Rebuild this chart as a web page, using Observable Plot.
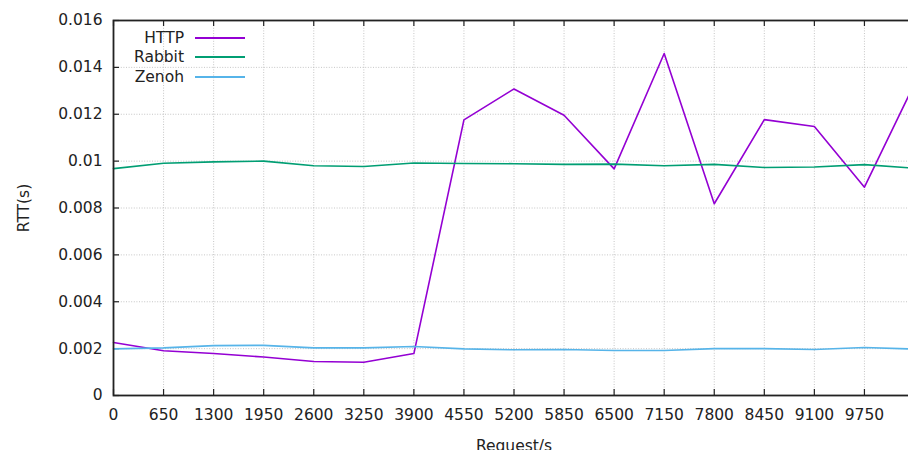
<!DOCTYPE html>
<html>
<head>
<meta charset="utf-8">
<script src="https://cdn.jsdelivr.net/npm/d3@7"></script>
<script src="https://cdn.jsdelivr.net/npm/@observablehq/plot@0.6"></script>
<style>
  html, body { margin: 0; padding: 0; background: #fff; overflow: hidden; width: 908px; height: 450px; }
  #wrap { position: relative; width: 908px; height: 450px; overflow: hidden; }
  #legend { position: absolute; left: 0; top: 0; width: 908px; height: 100px; pointer-events: none;
            font-family: "DejaVu Sans", sans-serif; font-size: 15.5px; color: #222; }
  .lg-label { position: absolute; right: 724px; white-space: nowrap; line-height: 20px; height: 20px; }
  .lg-line { position: absolute; left: 195px; width: 50px; height: 1.5px; }
</style>
</head>
<body>
<div id="wrap"><div id="legend"></div></div>
<script>
// ---- data ----
const requests = [0, 650, 1300, 1950, 2600, 3250, 3900, 4550, 5200, 5850, 6500, 7150, 7800, 8450, 9100, 9750, 10400];
const httpRtt   = [0.00226, 0.00191, 0.00179, 0.00164, 0.00145, 0.00142, 0.00179, 0.01176, 0.01308, 0.01196, 0.00967, 0.01459, 0.00818, 0.01177, 0.01148, 0.00889, 0.01330];
const rabbitRtt = [0.00968, 0.00991, 0.00997, 0.01000, 0.00980, 0.00977, 0.00992, 0.00990, 0.00989, 0.00986, 0.00987, 0.00980, 0.00986, 0.00973, 0.00975, 0.00985, 0.00970];
const zenohRtt  = [0.00199, 0.00203, 0.00213, 0.00214, 0.00203, 0.00203, 0.00209, 0.00199, 0.00195, 0.00196, 0.00192, 0.00192, 0.00200, 0.00200, 0.00196, 0.00205, 0.00198];
const seriesNames  = ["HTTP", "Rabbit", "Zenoh"];
const seriesColors = ["#9400d3", "#009e73", "#56b4e9"];
const xTickLabels = [0, 650, 1300, 1950, 2600, 3250, 3900, 4550, 5200, 5850, 6500, 7150, 7800, 8450, 9100, 9750];
const xTickMarks  = [...xTickLabels, 10400];
const yTicks = [0, 0.002, 0.004, 0.006, 0.008, 0.01, 0.012, 0.014, 0.016];

const seriesValues = [httpRtt, rabbitRtt, zenohRtt];
const rows = [];
seriesNames.forEach((name, s) => requests.forEach((x, i) => rows.push({x, y: seriesValues[s][i], name})));

const font = '"DejaVu Sans", sans-serif';
const ink = "#222";
const gridStyle = {stroke: "#b8b8b8", strokeOpacity: 1, strokeWidth: 0.8, strokeDasharray: "1,1.6"};

const chart = Plot.plot({
  width: 914,
  height: 450,
  marginLeft: 113,
  marginRight: 0,
  marginTop: 20,
  marginBottom: 55,
  style: {fontFamily: font, fontSize: "15.5px", color: ink, background: "white", maxWidth: "none", overflow: "hidden"},
  x: {domain: [0, 10400]},
  y: {domain: [0, 0.016]},
  color: {domain: seriesNames, range: seriesColors},
  marks: [
    Plot.gridX(xTickMarks, gridStyle),
    Plot.gridY(yTicks, gridStyle),
    // inward tick marks on all four sides
    Plot.ruleX(xTickMarks, {x: d => d, insetTop: 369, stroke: ink, strokeWidth: 1.2}),
    Plot.ruleX(xTickMarks, {x: d => d, insetBottom: 369, stroke: ink, strokeWidth: 1.2}),
    Plot.ruleY(yTicks, {y: d => d, insetRight: 795, stroke: ink, strokeWidth: 1.2}),
    Plot.ruleY(yTicks, {y: d => d, insetLeft: 795, stroke: ink, strokeWidth: 1.2}),
    Plot.line(rows, {x: "x", y: "y", z: "name", stroke: "name", strokeWidth: 1.6}),
    Plot.frame({stroke: ink, strokeWidth: 1.8}),
    Plot.axisX(xTickLabels, {tickSize: 0, tickPadding: 13, tickFormat: d => String(d), label: "Request/s", labelAnchor: "center", labelOffset: 55, labelArrow: "none", fontSize: 15.5}),
    Plot.axisY(yTicks, {tickSize: 0, tickPadding: 11, tickFormat: d => String(d), label: "RTT(s)", labelAnchor: "center", labelOffset: 96, labelArrow: "none", fontSize: 15.5})
  ]
});
document.getElementById("wrap").prepend(chart);

// legend (inside plot, upper left)
const legend = document.getElementById("legend");
const legendY = [38, 57, 77];
seriesNames.forEach((name, i) => {
  const lab = document.createElement("div");
  lab.className = "lg-label";
  lab.textContent = name;
  lab.style.top = (legendY[i] - 10) + "px";
  legend.appendChild(lab);
  const ln = document.createElement("div");
  ln.className = "lg-line";
  ln.style.top = (legendY[i] - 1) + "px";
  ln.style.background = seriesColors[i];
  legend.appendChild(ln);
});
</script>
</body>
</html>
